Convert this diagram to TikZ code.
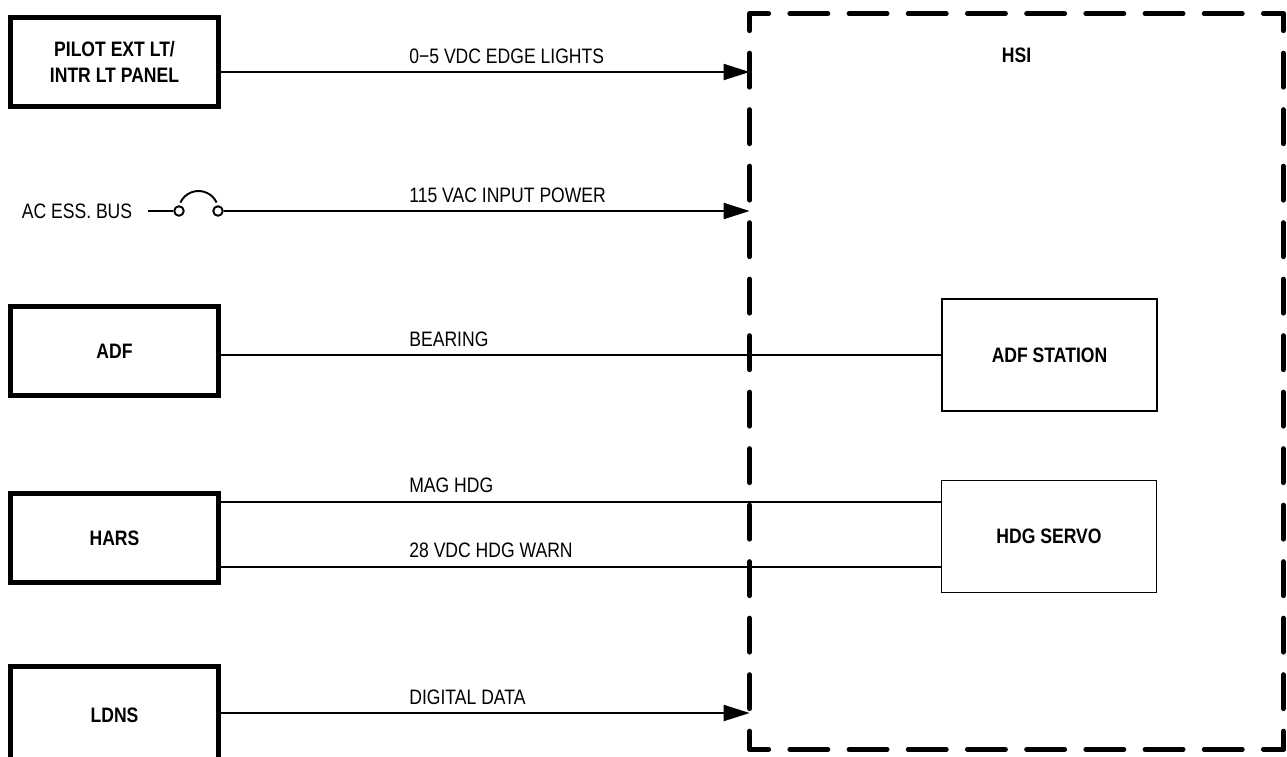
\documentclass[tikz,border=0pt]{standalone}
\usepackage{fontspec}
\setmainfont{Liberation Sans}[FakeStretch=0.84]
\usetikzlibrary{arrows.meta,positioning}

\begin{document}
\begin{tikzpicture}[>={Triangle[length=0.52cm,width=0.32cm]}, font=\fontsize{11.9}{14.7}\selectfont,
  unit/.style={draw, line width=2.6pt, minimum width=4.16cm, minimum height=1.78cm, align=center, font=\fontsize{11.9}{14.7}\selectfont\bfseries},
  sub/.style={draw, line width=1.1pt, minimum width=4.3cm, minimum height=2.24cm, align=center, font=\fontsize{11.9}{14.7}\selectfont\bfseries},
  sig/.style={anchor=base west, inner sep=0pt},
  wire/.style={line width=1.1pt},
  term/.style={circle, draw, line width=1.1pt, inner sep=0pt, minimum size=0.19cm},
  hsih/.style={line width=2.8pt, line cap=round, dash pattern=on 0.76cm off 0.424cm, dash phase=0.38cm},
  hsiv/.style={line width=2.8pt, line cap=round, dash pattern=on 0.68cm off 0.45cm, dash phase=0.34cm}]
\useasboundingbox (0,0) rectangle (25.74,-15.12);
% source units
\node[unit] (pilot) at (2.29,-1.24) {PILOT EXT LT/\\INTR LT PANEL};
\node[unit] (adf) at (2.29,-7.02) {ADF};
\node[unit] (hars) at (2.29,-10.76) {HARS};
\node[unit, minimum height=1.96cm] (ldns) at (2.29,-14.31) {LDNS};
% HSI and its parts
\node[minimum width=10.66cm, minimum height=14.7cm, inner sep=0pt] (hsi) at (20.33,-7.63) {};
\node[font=\fontsize{11.9}{14.7}\selectfont\bfseries, below=0.56cm of hsi.north] (hsilbl) {HSI};
\node[sub] (adfst) at (20.99,-7.10) {ADF STATION};
\node[sub] (hdg) at (20.98,-10.73) {HDG SERVO};
\draw[hsih] (hsi.north west) -- (hsi.north east);
\draw[hsih] (hsi.south west) -- (hsi.south east);
\draw[hsiv] (hsi.north west) -- (hsi.south west);
\draw[hsiv] (hsi.north east) -- (hsi.south east);
% power in through breaker
\node (bus) at (1.54,-4.22) {AC ESS. BUS};
\node[term] (t1) at (3.58,-4.22) {};
\node[term] (t2) at (4.36,-4.22) {};
\coordinate (brk) at (3.97,-4.22);
\draw[wire] ([xshift=0.2cm]bus.east) -- (t1);
\draw[wire] ([shift={(155:0.4cm)}]brk) arc[start angle=155, end angle=25, radius=0.4cm];
% signals
\draw[wire,->] ([yshift=-0.2cm]pilot.east) -- ([yshift=-0.2cm]pilot.east -| hsi.west);
\draw[wire,->] (t2) -- (t2 -| hsi.west);
\draw[wire] (adf.east |- adfst.west) -- (adfst.west);
\draw[wire] ([yshift=0.72cm]hars.east) -- ([yshift=0.72cm]hars.east -| hdg.west);
\draw[wire] ([yshift=-0.58cm]hars.east) -- ([yshift=-0.58cm]hars.east -| hdg.west);
\draw[wire,->] ([yshift=0.05cm]ldns.east) -- ([yshift=0.05cm]ldns.east -| hsi.west);
\node[sig] (s1) at (8.18,-1.26) {0−5 VDC EDGE LIGHTS};
\node[sig] (s2) at (8.18,-4.04) {115 VAC INPUT POWER};
\node[sig] (s3) at (8.18,-6.92) {BEARING};
\node[sig] (s4) at (8.18,-9.84) {MAG HDG};
\node[sig] (s5) at (8.18,-11.14) {28 VDC HDG WARN};
\node[sig] (s6) at (8.18,-14.08) {DIGITAL DATA};
\end{tikzpicture}
\end{document}
